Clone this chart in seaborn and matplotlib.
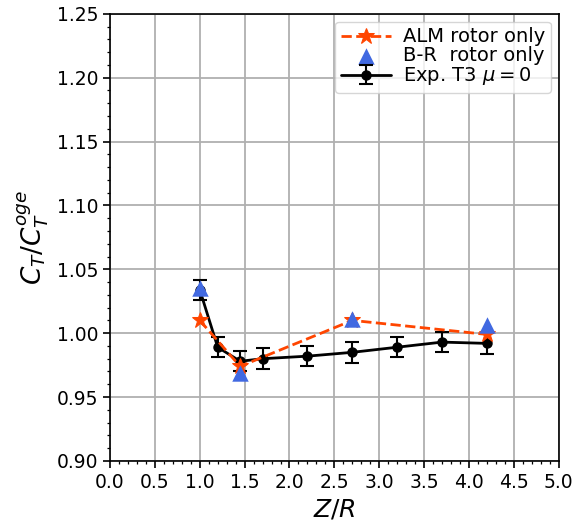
import matplotlib
matplotlib.use("Agg")
import matplotlib.pyplot as plt
from matplotlib.ticker import MultipleLocator
import seaborn as sns
import pandas as pd

# Experimental thrust ratio (T3, mu = 0)
exp_zr = [1.0, 1.2, 1.45, 1.7, 2.2, 2.7, 3.2, 3.7, 4.2]
exp_ct = [1.034, 0.989, 0.978, 0.980, 0.982, 0.985, 0.989, 0.993, 0.992]
exp_err = [0.008, 0.008, 0.008, 0.008, 0.008, 0.008, 0.008, 0.008, 0.008]

# Actuator-line model, rotor only
alm_zr = [1.0, 1.45, 2.7, 4.2]
alm_ct = [1.010, 0.974, 1.010, 0.999]

# Blade-resolved, rotor only
br_zr = [1.0, 1.45, 2.7, 4.2]
br_ct = [1.035, 0.969, 1.011, 1.006]

sns.set_style("ticks", {"axes.edgecolor": "black", "xtick.color": "black",
                        "ytick.color": "black", "text.color": "black",
                        "axes.labelcolor": "black"})
plt.rcParams["font.family"] = ["DejaVu Sans"]

fig = plt.figure(figsize=(5.76, 5.31), dpi=100)
ax = fig.add_axes([0.191, 0.132, 0.779, 0.842])

h_exp = ax.errorbar(exp_zr, exp_ct, yerr=exp_err, color="black", marker="o",
                    markersize=6.5, linewidth=2, capsize=5, capthick=1.5,
                    elinewidth=1.5, label=r"Exp. T3 $\mu=0$", zorder=3)

alm_df = pd.DataFrame({"zr": alm_zr, "ct": alm_ct})
sns.lineplot(data=alm_df, x="zr", y="ct", ax=ax, color="orangered",
             marker="*", markersize=12, markeredgecolor="orangered",
             linewidth=2, linestyle="--", label="ALM rotor only", zorder=4)

br_df = pd.DataFrame({"zr": br_zr, "ct": br_ct})
sns.scatterplot(data=br_df, x="zr", y="ct", ax=ax, color="royalblue",
                marker="^", s=140, edgecolor="royalblue", linewidth=0,
                label="B-R  rotor only", zorder=5)

ax.set_xlim(0, 5)
ax.set_ylim(0.90, 1.25)
ax.xaxis.set_major_locator(MultipleLocator(0.5))
ax.xaxis.set_minor_locator(MultipleLocator(0.1))
ax.yaxis.set_major_locator(MultipleLocator(0.05))
ax.yaxis.set_minor_locator(MultipleLocator(0.01))
ax.grid(True, which="major", color="#b0b0b0", linewidth=1.3)
ax.tick_params(which="major", labelsize=13.5, length=5, width=1.2,
               colors="black")
ax.tick_params(which="minor", length=2.5, width=0.9, colors="black")
for s in ax.spines.values():
    s.set_linewidth(1.2)
    s.set_color("black")

ax.set_xlabel(r"$Z/R$", fontsize=18)
ax.set_ylabel(r"$C_T/C_T^{oge}$", fontsize=19)

handles, labels = ax.get_legend_handles_labels()
order = {l: h for h, l in zip(handles, labels)}
names = ["ALM rotor only", "B-R  rotor only", r"Exp. T3 $\mu=0$"]
leg = ax.legend([order[n] for n in names], names, loc="upper right",
                fontsize=14, handlelength=2.6, labelspacing=0.0, borderpad=0.3,
                handletextpad=0.6, framealpha=0.8, borderaxespad=0.4)
leg.get_frame().set_edgecolor("#cccccc")

fig.savefig("out.png", dpi=100)
